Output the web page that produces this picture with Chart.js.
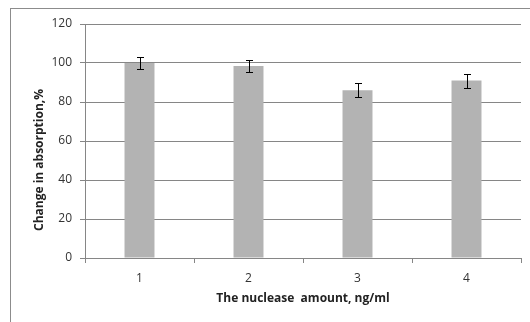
<!DOCTYPE html>
<html><head><meta charset="utf-8">
<script src="https://cdn.jsdelivr.net/npm/chart.js@4"></script>
<style>html,body{margin:0;padding:0;background:#fff}#wrap{position:relative;width:530px;height:322px}</style>
</head><body><div id="wrap"><canvas id="c" width="530" height="322"></canvas></div>
<script>
const categories = ['1', '2', '3', '4'];
const values = [100, 98.5, 86, 91];
const errors = [3.3, 3.2, 3.6, 3.6];
const yTickLabels = [0, 20, 40, 60, 80, 100, 120];
const xTitle = 'The nuclease  amount, ng/ml';
const yTitle = 'Change in absorption,%';

const GRID = '#868686';
const FONT = '"Open Sans", "Liberation Sans", sans-serif';

const framePlugin = {
  id: 'frame',
  beforeDraw(chart) {
    const ctx = chart.ctx;
    ctx.save();
    ctx.fillStyle = '#fff';
    ctx.fillRect(0, 0, chart.width, chart.height);
    ctx.strokeStyle = '#8c8c8c';
    ctx.lineWidth = 1;
    ctx.strokeRect(10.5, 8.5, 800, 800);
    ctx.restore();
  }
};

const yTitlePlugin = {
  id: 'yTitle',
  afterDraw(chart) {
    const ctx = chart.ctx;
    ctx.save();
    ctx.translate(40, 160);
    ctx.rotate(-Math.PI / 2);
    ctx.font = 'bold 12px ' + FONT;
    ctx.fillStyle = '#222';
    ctx.textAlign = 'center';
    ctx.textBaseline = 'middle';
    ctx.fillText(yTitle, 0, 0);
    ctx.restore();
  }
};

const errorBars = {
  id: 'errorBars',
  afterDatasetsDraw(chart) {
    const ctx = chart.ctx, y = chart.scales.y;
    const meta = chart.getDatasetMeta(0);
    ctx.save();
    ctx.strokeStyle = '#000';
    ctx.lineWidth = 1;
    meta.data.forEach((bar, i) => {
      const x = Math.round(bar.x) + 0.5;
      const top = Math.round(y.getPixelForValue(values[i] + errors[i])) + 0.5;
      const bot = Math.round(y.getPixelForValue(values[i] - errors[i])) + 0.5;
      ctx.beginPath();
      ctx.moveTo(x, top); ctx.lineTo(x, bot);
      ctx.moveTo(x - 3.5, top); ctx.lineTo(x + 3.5, top);
      ctx.moveTo(x - 3.5, bot); ctx.lineTo(x + 3.5, bot);
      ctx.stroke();
    });
    ctx.restore();
  }
};

new Chart(document.getElementById('c'), {
  type: 'bar',
  data: {
    labels: categories,
    datasets: [{
      data: values,
      backgroundColor: '#b3b3b3',
      borderColor: '#c8c8c8',
      borderWidth: 0,
      categoryPercentage: 1,
      barPercentage: 0.275
    }]
  },
  options: {
    responsive: false,
    animation: false,
    devicePixelRatio: 1,
    layout: { padding: { top: 24, right: 9, left: 0, bottom: 0 } },
    plugins: { legend: { display: false }, tooltip: { enabled: false } },
    scales: {
      x: {
        grid: { offset: true, drawOnChartArea: false, drawTicks: true, tickLength: 5, color: GRID },
        border: { color: GRID },
        ticks: { color: '#333', font: { family: FONT, size: 12 }, padding: 8 },
        title: { display: true, text: xTitle, color: '#222', font: { family: FONT, size: 12, weight: 'bold' }, padding: { top: 0, bottom: 16 } },
        afterFit: s => { s.height = 64; }
      },
      y: {
        min: 0, max: 120,
        afterBuildTicks: s => { s.ticks = yTickLabels.map(v => ({ value: v })); },
        grid: { color: GRID, tickLength: 5 },
        border: { color: GRID },
        ticks: { color: '#333', font: { family: FONT, size: 12 }, padding: 8 },
        afterFit: s => { s.width = 85; }
      }
    }
  },
  plugins: [framePlugin, errorBars, yTitlePlugin]
});
</script>
</body></html>
